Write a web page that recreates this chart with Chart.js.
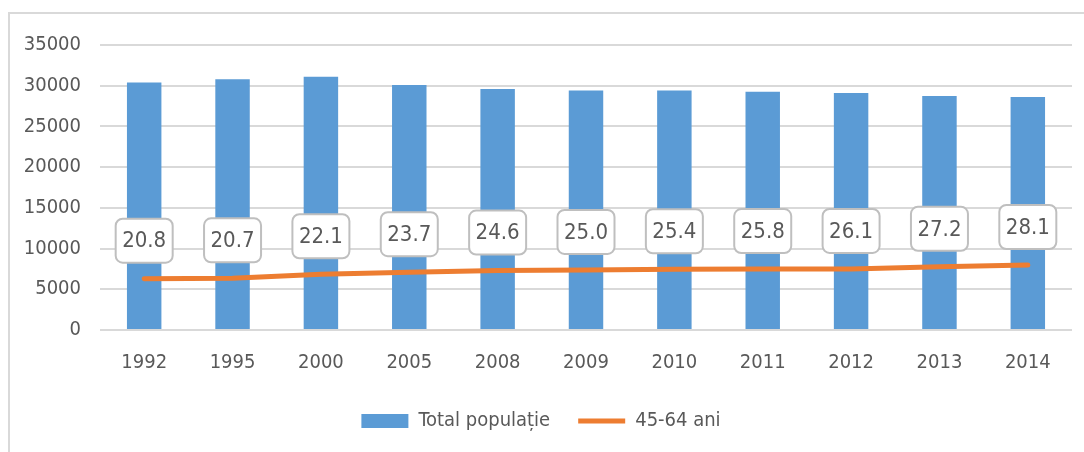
<!DOCTYPE html>
<html>
<head>
<meta charset="utf-8">
<script src="https://cdn.jsdelivr.net/npm/chart.js@4"></script>
<style>
  html, body { margin: 0; padding: 0; background: #fff; }
  #cadru {
    position: absolute; left: 8px; top: 12px;
    width: 1076px; height: 440px;
    border-left: 2px solid #d9d9d9; border-top: 2px solid #d9d9d9;
  }
  #grafic { display: block; }
</style>
</head>
<body>
<div id="cadru"><canvas id="grafic" width="1074" height="438"></canvas></div>
<script>
const ani = ['1992', '1995', '2000', '2005', '2008', '2009', '2010', '2011', '2012', '2013', '2014'];
const totalPopulatie = [30400, 30800, 31100, 30100, 29600, 29400, 29400, 29250, 29100, 28750, 28600];
const grupa4564 = [6300, 6350, 6850, 7100, 7300, 7380, 7460, 7480, 7500, 7760, 7980];
const ponderi = ['20.8', '20.7', '22.1', '23.7', '24.6', '25.0', '25.4', '25.8', '26.1', '27.2', '28.1'];
const yTicks = [0, 5000, 10000, 15000, 20000, 25000, 30000, 35000];

const FONT = '"DejaVu Sans Condensed", "Liberation Sans", sans-serif';
const GRI = '#595959';

// etichete in casute rotunjite deasupra liniei
const eticheteLinie = {
  id: 'eticheteLinie',
  afterDatasetsDraw(chart) {
    const meta = chart.getDatasetMeta(0);
    const ctx = chart.ctx;
    ctx.save();
    ctx.font = '22px ' + FONT;
    ctx.textAlign = 'center';
    ctx.textBaseline = 'middle';
    meta.data.forEach((pt, i) => {
      const w = 57, h = 44;
      const x = pt.x - w / 2, y = pt.y - 38 - h / 2;
      ctx.beginPath();
      ctx.roundRect(x, y, w, h, 7);
      ctx.fillStyle = '#fff';
      ctx.fill();
      ctx.lineWidth = 2;
      ctx.strokeStyle = '#bfbfbf';
      ctx.stroke();
      ctx.fillStyle = GRI;
      ctx.fillText(ponderi[i], pt.x, pt.y - 37);
    });
    ctx.restore();
  }
};

const ctx = document.getElementById('grafic').getContext('2d');

const grafic = new Chart(ctx, {
  type: 'bar',
  data: {
    labels: ani,
    datasets: [
      {
        type: 'line',
        label: '45-64 ani',
        data: grupa4564,
        borderColor: '#ED7D31',
        backgroundColor: '#ED7D31',
        borderWidth: 5,
        borderCapStyle: 'round',
        pointRadius: 0,
        pointStyle: 'line',
        tension: 0,
        order: 0
      },
      {
        label: 'Total populație',
        data: totalPopulatie,
        backgroundColor: '#5B9BD5',
        borderWidth: 0,
        pointStyle: 'rect',
        categoryPercentage: 1,
        barPercentage: 0.39,
        order: 1
      }
    ]
  },
  options: {
    responsive: false,
    animation: false,
    layout: { padding: { top: 29, right: 12, left: 0, bottom: 11 } },
    plugins: {
      tooltip: { enabled: false },
      legend: {
        position: 'bottom',
        reverse: true,
        labels: {
          usePointStyle: true,
          pointStyleWidth: 47,
          boxHeight: 14,
          padding: 28,
          color: GRI,
          font: { family: FONT, size: 20 }
        }
      }
    },
    scales: {
      x: {
        grid: { display: false },
        border: { display: false },
        ticks: { color: GRI, padding: 13, font: { family: FONT, size: 20 } },
        afterFit(scale) { scale.height = 53; }
      },
      y: {
        min: 0,
        max: 35000,
        afterBuildTicks(scale) { scale.ticks = yTicks.map(v => ({ value: v })); },
        grid: { color: '#d9d9d9', lineWidth: 2, drawTicks: false },
        border: { display: false },
        ticks: {
          color: GRI, padding: 19, font: { family: FONT, size: 20 },
          callback: (v) => String(v)
        },
        afterFit(scale) { scale.width = 90; }
      }
    }
  },
  plugins: [eticheteLinie]
});
</script>
</body>
</html>
